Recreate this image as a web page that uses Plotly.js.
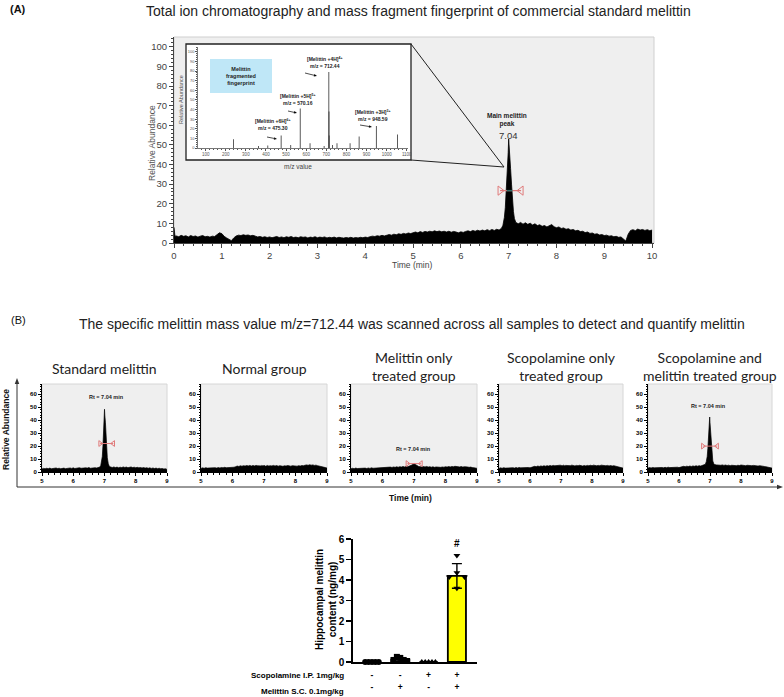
<!DOCTYPE html>
<html><head><meta charset="utf-8">
<script src="https://cdn.plot.ly/plotly-3.0.1.min.js"></script>
<style>html,body{margin:0;padding:0;background:#fff}</style>
</head><body><div id="chart" style="width:784px;height:697px"></div>
<script>
// ================= DATA =================
// (A) total ion chromatogram
const ticTime = [
0.00,0.02,0.05,0.10,0.15,0.20,0.25,0.30,0.35,0.40,
0.45,0.50,0.55,0.60,0.65,0.70,0.75,0.80,0.85,0.90,
0.95,1.00,1.05,1.10,1.15,1.20,1.25,1.30,1.35,1.40,
1.45,1.50,1.55,1.60,1.65,1.70,1.75,1.80,1.85,1.90,
1.95,2.00,2.05,2.10,2.15,2.20,2.25,2.30,2.35,2.40,
2.45,2.50,2.55,2.60,2.65,2.70,2.75,2.80,2.85,2.90,
2.95,3.00,3.05,3.10,3.15,3.20,3.25,3.30,3.35,3.40,
3.45,3.50,3.55,3.60,3.65,3.70,3.75,3.80,3.85,3.90,
3.95,4.00,4.05,4.10,4.15,4.20,4.25,4.30,4.35,4.40,
4.45,4.50,4.55,4.60,4.65,4.70,4.75,4.80,4.85,4.90,
4.95,5.00,5.05,5.10,5.15,5.20,5.25,5.30,5.35,5.40,
5.45,5.50,5.55,5.60,5.65,5.70,5.75,5.80,5.85,5.90,
5.95,6.00,6.05,6.10,6.15,6.20,6.25,6.30,6.35,6.40,
6.45,6.50,6.55,6.60,6.65,6.70,6.75,6.80,6.85,6.88,
6.91,6.93,6.95,6.97,6.99,7.00,7.01,7.02,7.04,7.06,
7.08,7.10,7.12,7.15,7.20,7.25,7.30,7.35,7.40,7.45,
7.50,7.55,7.60,7.65,7.70,7.75,7.80,7.85,7.90,7.95,
8.00,8.05,8.10,8.15,8.20,8.25,8.30,8.35,8.40,8.45,
8.50,8.55,8.60,8.65,8.70,8.75,8.80,8.85,8.90,8.95,
9.00,9.05,9.10,9.15,9.20,9.25,9.30,9.35,9.40,9.45,
9.50,9.55,9.60,9.65,9.70,9.75,9.80,9.85,9.90,9.95,
10.00];
const ticAbund = [
8.0,3.5,3.6,3.2,3.9,3.4,3.7,3.1,3.8,3.3,
3.6,3.0,3.5,3.8,3.2,3.4,3.0,3.5,3.3,4.2,
5.2,4.8,3.4,2.6,1.8,1.2,2.6,3.6,4.0,3.8,
4.2,3.9,4.1,3.7,3.9,3.4,3.1,3.3,2.9,3.2,
2.8,3.1,2.7,3.0,3.3,2.8,3.1,2.7,3.2,2.9,
3.3,2.8,3.0,2.7,3.2,2.9,3.1,2.6,3.0,2.8,
3.2,2.7,3.0,2.8,3.1,2.6,2.9,2.7,3.0,2.6,
2.9,2.7,2.5,2.8,2.6,2.9,2.5,2.8,2.6,2.9,
2.7,3.0,2.8,3.2,3.5,3.3,3.7,3.5,3.9,3.6,
4.0,4.3,4.0,4.5,4.2,4.7,4.4,4.9,4.6,5.1,
4.8,5.3,5.6,5.2,5.8,5.4,5.9,5.6,6.0,5.7,
6.2,5.8,6.1,5.7,6.0,5.6,6.0,5.5,5.9,5.6,
5.2,5.7,5.4,5.9,6.2,5.8,6.4,6.0,6.5,6.1,
6.6,6.2,6.8,6.3,6.9,6.4,7.0,6.6,7.5,9.0,
13.0,18.0,26.0,36.0,46.0,53.0,47.0,44.0,38.0,30.0,
22.0,16.0,12.5,10.5,9.8,10.5,9.6,10.3,9.5,10.1,
9.2,9.8,8.9,9.3,8.5,8.9,8.2,8.8,9.4,8.3,
7.8,8.2,7.4,7.7,7.0,7.3,6.6,6.9,6.2,6.5,
5.8,6.0,5.3,5.6,4.9,5.1,4.5,4.7,4.1,4.3,
3.8,4.0,3.5,3.7,3.2,3.4,2.9,3.1,2.2,1.0,
4.5,6.4,6.8,6.3,7.1,6.6,6.9,6.4,6.8,6.3,
6.6];
const ticPeakLabel = '7.04';
const ticFwhm = [6.82, 7.26];
const ticFwhmCore = [6.96, 7.08];
const ticFwhmY = 26.7;

// (A) inset: mass spectrum
const msMz  = [238, 363, 409, 475.30, 523, 570.16, 619, 689, 712.44, 713.2, 713.9, 731, 753, 818, 863, 948.59, 1054];
const msInt = [9,   2,   2.5, 13,     3,   41,     5,   2,   79,     38,    13,    3,   5,   5,   12,  23,     14];
const ionNames = ['[Melittin +6H]<sup>6+</sup>', '[Melittin +5H]<sup>5+</sup>', '[Melittin +4H]<sup>4+</sup>', '[Melittin +3H]<sup>3+</sup>'];
const ionMz = ['475.30', '570.16', '712.44', '948.59'];

// (B) extracted ion chromatograms (m/z 712.44)
const bTitles = ['Standard melittin', 'Normal group', 'Melittin only<br>treated group', 'Scopolamine only<br>treated group', 'Scopolamine and<br>melittin treated group'];
const bTime = [
5.00,5.05,5.10,5.15,5.20,5.25,5.30,5.35,5.40,5.45,
5.50,5.55,5.60,5.65,5.70,5.75,5.80,5.85,5.90,5.95,
6.00,6.05,6.10,6.15,6.20,6.25,6.30,6.35,6.40,6.45,
6.50,6.55,6.60,6.65,6.70,6.75,6.80,
6.85,6.88,6.91,6.93,6.95,6.97,6.99,7.00,7.01,7.03,7.05,7.07,7.09,7.12,7.15,7.20,
7.25,7.30,7.35,7.40,7.45,7.50,7.55,7.60,7.65,7.70,
7.75,7.80,7.85,7.90,7.95,8.00,8.05,8.10,8.15,8.20,
8.25,8.30,8.35,8.40,8.45,8.50,8.55,8.60,8.65,8.70,
8.75,8.80,8.85,8.90,8.95,9.00];
const bStandard = [
2.4,2.8,2.5,2.9,2.6,3.0,2.5,2.8,2.6,3.1,
2.7,2.9,2.5,2.8,3.0,2.6,2.9,2.7,3.1,2.8,
3.2,2.7,3.0,2.8,3.3,2.9,3.1,2.8,3.2,3.0,
3.4,2.9,3.2,3.0,3.3,3.1,3.4,
3.8,5.0,8.0,12.0,20.0,32.0,42.0,48.5,44.0,38.0,28.0,18.0,11.0,6.5,4.5,3.8,
3.5,3.9,3.4,3.8,3.3,3.7,3.4,3.9,3.5,3.8,
3.3,3.6,3.9,3.4,3.7,3.3,3.6,3.2,3.5,3.1,
3.4,3.0,3.3,2.9,3.2,2.8,3.1,2.7,3.0,2.6,
2.9,2.5,2.7,2.3,2.5,2.0];
const bNormal = [
2.8,3.2,2.9,3.3,3.0,3.1,2.8,3.2,2.9,3.3,
3.0,3.4,3.1,3.5,3.2,3.6,3.3,3.4,3.1,3.5,
3.3,3.7,4.1,4.6,4.3,4.8,4.5,4.9,4.6,5.0,
4.7,5.1,4.6,5.0,4.7,5.1,4.8,
4.6,5.0,4.7,5.1,4.8,4.6,5.0,4.7,5.1,4.8,4.5,4.9,4.7,5.1,4.6,4.9,
4.7,5.1,4.6,5.0,4.5,4.9,4.7,4.4,4.8,4.6,
5.0,4.7,4.5,4.9,4.6,4.8,4.5,4.9,4.6,5.0,
4.8,5.2,5.5,5.2,5.6,5.3,5.5,5.1,5.3,4.9,
4.7,4.3,4.0,3.7,3.4,3.0];
const bMelittin = [
2.5,2.9,2.6,3.0,2.7,2.8,2.5,2.9,2.6,3.0,
2.7,3.1,2.8,3.2,2.9,3.0,2.8,3.2,2.9,3.3,
3.0,3.4,3.2,3.6,3.4,3.8,3.5,3.9,3.6,4.0,
3.7,4.1,3.8,4.2,3.9,4.3,4.0,
4.4,4.7,5.0,5.4,5.8,6.1,6.4,6.6,6.3,6.0,5.7,5.3,4.9,4.5,4.2,4.1,
3.8,4.2,3.9,4.3,3.8,4.1,3.7,4.0,3.6,3.9,
3.7,4.0,3.6,3.9,3.7,4.1,3.8,4.2,3.9,4.3,
4.0,4.4,4.1,4.3,3.9,4.2,3.8,4.1,3.7,3.9,
3.6,3.8,3.4,3.5,3.1,2.8];
const bScopolamine = [
2.8,3.2,2.9,3.3,3.0,3.1,2.8,3.2,2.9,3.3,
3.0,3.4,3.1,3.5,3.2,3.3,3.0,3.4,3.1,3.5,
3.2,3.6,3.9,4.4,4.1,4.6,4.3,4.7,4.4,4.8,
4.5,4.9,4.6,5.0,4.7,5.1,4.8,
5.0,4.7,5.1,4.8,5.2,4.9,5.3,5.0,4.8,5.2,4.9,5.3,5.0,4.8,5.1,4.9,
5.2,4.9,5.3,5.0,4.7,5.1,4.8,5.2,4.9,4.6,
5.0,4.7,5.1,4.8,5.2,4.9,5.3,5.0,4.8,5.1,
4.9,5.3,5.0,5.2,4.8,5.1,4.7,5.0,4.6,4.9,
4.5,4.2,3.9,3.6,3.3,3.0];
const bScopMelittin = [
3.0,3.4,3.1,3.5,3.2,3.3,3.0,3.4,3.1,3.5,
3.2,3.6,3.3,3.7,3.4,3.5,3.2,3.6,3.3,3.7,
3.4,3.8,4.0,4.4,4.1,4.5,4.2,4.6,4.3,4.7,
4.4,4.8,4.5,4.9,4.6,5.0,5.2,
6.0,8.0,12.0,18.0,26.0,36.0,42.5,38.0,34.0,26.0,18.0,12.0,8.5,6.5,5.8,5.5,
5.3,5.6,5.2,5.5,5.1,5.4,5.0,5.3,4.9,5.2,
5.0,5.3,4.9,5.2,5.0,5.4,5.1,5.3,4.9,5.2,
5.0,5.3,4.9,5.1,4.8,5.0,4.6,4.9,4.5,4.7,
4.3,4.1,3.8,3.6,3.3,3.0];
const bFwhmLeft  = [6.86, null, 6.79, null, 6.77];
const bFwhmRight = [7.28, null, 7.22, null, 7.23];
const bFwhmY     = [22,   null, 6.5,  null, 20];
const bRtText = ['Rt = 7.04 min', null, 'Rt = 7.04 min', null, 'Rt = 7.04 min'];
const bRtX = [7.06, null, 6.98, null, 6.96];
const bRtY = [58, null, 17.6, null, 51];

// (B) hippocampal melittin content
const barGroups = [1, 2, 3, 4];
const scopolamineSigns = ['-', '-', '+', '+'];
const melittinSigns    = ['-', '+', '-', '+'];
const barMeans = [0.0, 0.12, 0.0, 4.2];
const barSD    = [0.0, 0.08, 0.0, 0.6];
const ptsNormal   = [0, 0, 0, 0, 0];
const ptsMelittin = [0.10, 0.25, 0.20, 0.10, 0.05];
const ptsScop     = [0, 0, 0, 0, 0];
const ptsScopMel  = [4.15, 4.35, 5.2, 3.6, 4.15];
const sigMark = '#';

// ================= LAYOUT HELPERS =================
const W = 784, H = 697;
const fx = p => p / W, fy = p => 1 - p / H;
const FONT = 'Liberation Sans, Arial, sans-serif';
const NARROW = 'Liberation Sans Narrow, Arial Narrow, Liberation Sans, sans-serif';
const SUB = 'Lato, Open Sans, sans-serif';
const GRAY_BG = '#efefef';

const traces = [];
const shapes = [];
const ann = [];
const layout = {
  width: W, height: H, margin: {l:0, r:0, t:0, b:0},
  paper_bgcolor: '#fff', plot_bgcolor: 'rgba(0,0,0,0)',
  showlegend: false, font: {family: FONT, color: '#222'},
  barmode: 'overlay'
};
function axis(o){ return Object.assign({showgrid:false, zeroline:false, fixedrange:true}, o); }
function pAnn(text, x, y, o){ ann.push(Object.assign({text, x: fx(x), y: fy(y), xref:'paper', yref:'paper', showarrow:false, xanchor:'center', yanchor:'middle'}, o||{})); }
function rectPx(x0, y0, x1, y1, fill, line, lw){ shapes.push({type:'rect', xref:'paper', yref:'paper', x0: fx(x0), x1: fx(x1), y0: fy(y1), y1: fy(y0), fillcolor: fill, line:{color: line, width: lw}, layer:'below'}); }
function linePx(x0, y0, x1, y1, color, w){ shapes.push({type:'line', xref:'paper', yref:'paper', x0: fx(x0), x1: fx(x1), y0: fy(y0), y1: fy(y1), line:{color, width:w}, layer:'above'}); }
function arrowPx(tail, tip, headLen, headW, color, w){
  const dx = tip[0]-tail[0], dy = tip[1]-tail[1], L = Math.hypot(dx, dy);
  const ux = dx/L, uy = dy/L, bx = tip[0]-ux*headLen, by = tip[1]-uy*headLen;
  linePx(tail[0], tail[1], bx, by, color, w);
  const p1 = [bx - uy*headW/2, by + ux*headW/2], p2 = [bx + uy*headW/2, by - ux*headW/2];
  const P = p => fx(p[0]) + ',' + fy(p[1]);
  shapes.push({type:'path', xref:'paper', yref:'paper', path:'M' + P(tip) + ' L' + P(p1) + ' L' + P(p2) + ' Z', fillcolor: color, line:{width:0}, layer:'above'});
}

// ================= PANEL A =================
pAnn('<b>(A)</b>', 18, 9, {font:{family:NARROW, size:11, color:'#111'}});
pAnn('Total ion chromatography and mass fragment fingerprint of commercial standard melittin', 418, 11, {font:{family:NARROW, size:14, color:'#222'}});

const A = {l:174, r:654, t:37, b:243};
rectPx(A.l, A.t, A.r, A.b, GRAY_BG, '#cfcfcf', 1);
layout.xaxis = axis({domain:[fx(A.l), fx(A.r)], range:[0, 10.04], anchor:'y', showline:true, linecolor:'#444', ticks:'outside', ticklen:4, tickcolor:'#444', tick0:0, dtick:1,
  minor:{ticks:'outside', dtick:0.2, ticklen:2, tickcolor:'#444'}, tickfont:{size:9.5, color:'#444'}});
layout.yaxis = axis({domain:[fy(A.b), fy(A.t)], range:[0, 105], anchor:'x', showline:true, linecolor:'#444', ticks:'outside', ticklen:4, tickcolor:'#444', tick0:0, dtick:10,
  minor:{ticks:'outside', dtick:2, ticklen:2, tickcolor:'#444'}, tickfont:{size:9.5, color:'#444'}});
traces.push({type:'scatter', x: ticTime, y: ticAbund, xaxis:'x', yaxis:'y', mode:'lines', line:{color:'#000', width:0.8}, fill:'tozeroy', fillcolor:'#000', hoverinfo:'skip'});
traces.push({type:'scatter', x: ticFwhm, y:[ticFwhmY, ticFwhmY], xaxis:'x', yaxis:'y', mode:'lines+markers', line:{color:'#e07a7a', width:1.2},
  marker:{symbol:['triangle-right-open','triangle-left-open'], size:8, color:'#e07a7a', line:{width:1}}, hoverinfo:'skip'});
traces.push({type:'scatter', x: ticFwhmCore, y:[ticFwhmY, ticFwhmY], xaxis:'x', yaxis:'y', mode:'lines', line:{color:'#2f6f6a', width:1.4}, hoverinfo:'skip'});
pAnn('Relative Abundance', 152, 143, {textangle:-90, font:{size:8.5, color:'#555'}});
pAnn('Time (min)', 412, 265, {font:{size:8.5, color:'#444'}});
pAnn('<b>Main melittin<br>peak</b>', 507, 120, {font:{size:6.5, color:'#222'}});
pAnn(ticPeakLabel, 508, 135, {font:{size:9.5, color:'#333'}});

// inset box + zoom lines
const IB = {l:186, r:411, t:44, b:160};
rectPx(IB.l, IB.t, IB.r, IB.b, '#ffffff', '#222', 1.3);
linePx(IB.r, IB.t, 504, 167, '#222', 1);
linePx(IB.r, IB.b, 504, 167, '#222', 1);
layout.xaxis2 = axis({domain:[fx(198), fx(408)], range:[62, 1106], anchor:'y2', showline:true, linecolor:'#555', linewidth:0.8, ticks:'outside', ticklen:2, tickcolor:'#555', tick0:0, dtick:100,
  minor:{ticks:'outside', dtick:20, ticklen:1, tickcolor:'#555'}, tickfont:{size:4.5, color:'#555'}});
layout.yaxis2 = axis({domain:[fy(148), fy(47)], range:[0, 105], anchor:'x2', showline:true, linecolor:'#555', linewidth:0.8, ticks:'outside', ticklen:2, tickcolor:'#555', tick0:0, dtick:10,
  minor:{ticks:'outside', dtick:2, ticklen:1, tickcolor:'#555'}, tickfont:{size:4, color:'#555'}});
traces.push({type:'bar', x: msMz, y: msInt, xaxis:'x2', yaxis:'y2', width: 4, marker:{color:'#333', line:{width:0}}, hoverinfo:'skip'});
pAnn('Relative Abundance', 181, 100, {textangle:-90, font:{size:5.5, color:'#555'}});
pAnn('m/z value', 298, 166, {font:{size:6.5, color:'#444'}});
rectPx(210, 59, 272, 93, '#bfe7f7', 'rgba(0,0,0,0)', 0);
pAnn('<b>Melittin<br>fragmented<br>fingerprint</b>', 241, 76, {font:{size:5.5, color:'#222'}});
const ionLabelPx = [[273, 125], [298, 100], [325, 62], [373, 115]];
const ionArrowTip = [[277, 139], [297, 113], [317, 76], [372, 127]];
const ionArrowTail = [[267, 137], [288, 111], [305, 73], [360, 125]];
ionNames.forEach((n, i) => {
  pAnn('<b>' + n + '<br>m/z = ' + ionMz[i] + '</b>', ionLabelPx[i][0], ionLabelPx[i][1], {font:{size:5, color:'#222'}});
  arrowPx(ionArrowTail[i], ionArrowTip[i], 3, 2.6, '#000', 0.7);
});

// ================= PANEL B =================
pAnn('(B)', 18, 320, {font:{family:NARROW, size:11, color:'#111'}});
pAnn('The specific melittin mass value m/z=712.44 was scanned across all samples to detect and quantify melittin', 412, 324, {font:{family:NARROW, size:14, color:'#222'}});

const bPx = [[42, 167], [201, 327], [351, 477], [499, 623], [648, 772]];
const bTop = 384, bBot = 472;
const bSeries = [bStandard, bNormal, bMelittin, bScopolamine, bScopMelittin];
bPx.forEach((p, i) => {
  const n = i + 3, xa = 'x' + n, ya = 'y' + n;
  rectPx(p[0], bTop, p[1], bBot, GRAY_BG, '#d6d6d6', 1);
  layout['xaxis' + n] = axis({domain:[fx(p[0]), fx(p[1])], range:[5, 9], anchor: ya, showline:true, linecolor:'#000', ticks:'outside', ticklen:3, tickcolor:'#000', tick0:5, dtick:1,
    minor:{ticks:'outside', dtick:0.2, ticklen:1.5, tickcolor:'#000'}, tickfont:{size:6, color:'#000', weight:'bold'}});
  layout['yaxis' + n] = axis({domain:[fy(bBot), fy(bTop)], range:[0, 68], anchor: xa, showline:true, linecolor:'#000', ticks:'outside', ticklen:3, tickcolor:'#000', tick0:0, dtick:10,
    minor:{ticks:'outside', dtick:2, ticklen:1.5, tickcolor:'#000'}, tickfont:{size:6, color:'#000', weight:'bold'}});
  traces.push({type:'scatter', x: bTime, y: bSeries[i], xaxis: xa, yaxis: ya, mode:'lines', line:{color:'#000', width:0.7}, fill:'tozeroy', fillcolor:'#000', hoverinfo:'skip'});
  if (bFwhmLeft[i] !== null) {
    traces.push({type:'scatter', x:[bFwhmLeft[i], bFwhmRight[i]], y:[bFwhmY[i], bFwhmY[i]], xaxis: xa, yaxis: ya, mode:'lines+markers', line:{color:'#e07a7a', width:1},
      marker:{symbol:['triangle-right-open','triangle-left-open'], size:5, color:'#e07a7a', line:{width:1}}, hoverinfo:'skip'});
    ann.push({text:'<b>' + bRtText[i] + '</b>', x: bRtX[i], y: bRtY[i], xref: xa, yref: ya, showarrow:false, font:{size:5.5, color:'#222'}});
  }
  const titleY = bTitles[i].indexOf('<br>') >= 0 ? 366 : 368;
  pAnn(bTitles[i], (p[0] + p[1]) / 2, titleY, {font:{family:SUB, size:14, color:'#222'}});
});
arrowPx([17, 487], [17, 378], 6, 4.5, '#333', 1);
arrowPx([17, 487], [783, 487], 6, 4.5, '#333', 1);
pAnn('<b>Relative Abundance</b>', 6, 430, {textangle:-90, font:{size:8.5, color:'#111'}});
pAnn('<b>Time (min)</b>', 410, 498, {font:{size:8.5, color:'#111'}});

// ================= BAR CHART =================
const BC = {l:353, r:477, t:539, b:662};
const barXRange = [0.33, 4.71];
const signFont = {size:8.5, color:'#000', weight:'bold', family: FONT};
// x8: main category axis; its tick labels are the scopolamine row
layout.xaxis8 = axis({domain:[fx(BC.l), fx(BC.r)], range: barXRange, anchor:'y8', showline:true, linecolor:'#000', linewidth:1.6,
  ticks:'', tickmode:'array', tickvals: barGroups, ticktext: scopolamineSigns, tickfont: signFont, ticklabelstandoff: 4});
// x9: overlaid free axis carrying the melittin row
layout.xaxis9 = axis({domain:[fx(BC.l), fx(BC.r)], range: barXRange, overlaying:'x8', anchor:'free', position: fy(680), showline:false,
  ticks:'', tickmode:'array', tickvals: barGroups, ticktext: melittinSigns, tickfont: signFont, side:'bottom'});
layout.yaxis8 = axis({domain:[fy(BC.b), fy(BC.t)], range:[0, 6], anchor:'x8', showline:true, linecolor:'#000', linewidth:1.6, ticks:'outside', ticklen:5, tickwidth:1.6, tickcolor:'#000', dtick:1,
  tickfont:{size:10, color:'#000', weight:'bold'}});
traces.push({type:'bar', x: barGroups, y: barMeans, xaxis:'x8', yaxis:'y8', width:0.64,
  marker:{color:['rgba(0,0,0,0)','rgba(0,0,0,0)','rgba(0,0,0,0)','#ffff00'], line:{color:'#000', width:1.8}},
  error_y:{type:'data', array: barSD, visible:true, color:'#000', thickness:1.4, width:5}, hoverinfo:'skip'});
// invisible trace so the overlaid sign axis is drawn
traces.push({type:'scatter', mode:'markers', x: barGroups, y: barMeans, xaxis:'x9', yaxis:'y8', marker:{opacity:0, size:1}, hoverinfo:'skip'});
const jitter5 = [-0.24, -0.12, 0, 0.12, 0.24];
const jitterG4 = [-0.27, 0, 0, 0, 0.27];
const groupPts = [ptsNormal, ptsMelittin, ptsScop, ptsScopMel];
const groupSym = ['circle', 'square', 'triangle-up', 'triangle-down'];
groupPts.forEach((pts, g) => {
  const jit = g === 3 ? jitterG4 : jitter5;
  traces.push({type:'scatter', mode:'markers', xaxis:'x8', yaxis:'y8', x: pts.map((v, k) => barGroups[g] + jit[k]), y: pts,
    marker:{symbol: groupSym[g], size:6, color:'#000'}, hoverinfo:'skip', cliponaxis:false});
});
ann.push({text:'<b>' + sigMark + '</b>', x: barGroups[3], y: 5.78, xref:'x8', yref:'y8', showarrow:false, font:{size:10, color:'#000'}});
pAnn('<b>Hippocampal melittin<br>content (ng/mg)</b>', 326, 600, {textangle:-90, font:{size:10, color:'#000'}});
pAnn('<b>Scopolamine I.P. 1mg/kg</b>', 346, 675, {xanchor:'right', font:{size:8, color:'#000'}});
pAnn('<b>Melittin S.C. 0.1mg/kg</b>', 346, 691, {xanchor:'right', font:{size:8, color:'#000'}});

layout.shapes = shapes;
layout.annotations = ann;
Plotly.newPlot('chart', traces, layout, {displayModeBar:false, staticPlot:true});
</script>
</body></html>
